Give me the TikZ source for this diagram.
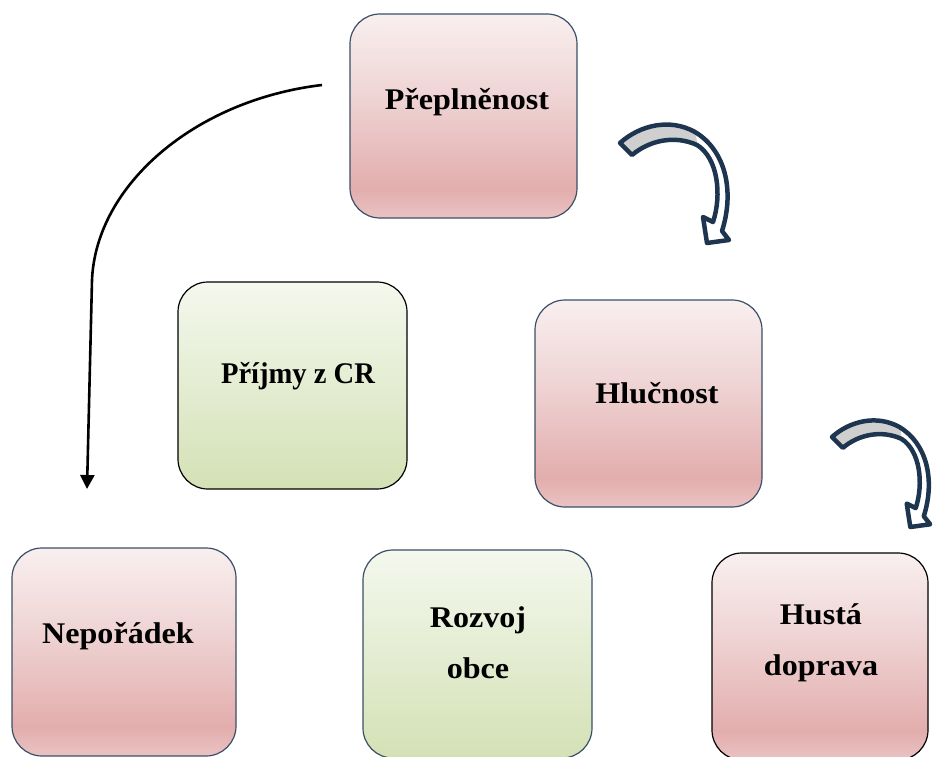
\documentclass[tikz,border=0pt]{standalone}
\usepackage{fontspec}
\usepackage{graphicx}
\setmainfont{Liberation Serif}[FakeStretch=1.07]
\usetikzlibrary{arrows.meta}

\definecolor{pinkTop}{HTML}{F9EFEF}
\definecolor{pinkMid}{HTML}{EFD4D4}
\definecolor{pinkLow}{HTML}{E3ADAD}
\definecolor{pinkBot}{HTML}{EAC3C3}
\definecolor{greenTop}{HTML}{F4F8EE}
\definecolor{greenBot}{HTML}{D4E1B5}
\definecolor{slate}{HTML}{3B4F68}
\definecolor{navy}{HTML}{1E3550}
\definecolor{bandgray}{HTML}{CFCFCF}

\pgfdeclareverticalshading{pinkfill}{100bp}{color(0bp)=(pinkBot); color(25bp)=(pinkBot);
  color(32bp)=(pinkLow); color(55bp)=(pinkMid); color(75bp)=(pinkTop); color(100bp)=(pinkTop)}

\tikzset{
  box/.style={rounded corners=30pt, line width=1.2pt, inner sep=0pt,
    minimum width=227pt, minimum height=206pt},
  pinkbox/.style={box, draw=slate, shade, shading=pinkfill},
  greenbox/.style={box, draw=slate, top color=greenTop, bottom color=greenBot},
  lbl/.style={font=\fontsize{30}{51}\selectfont\bfseries, align=center, inner sep=0pt},
  curve/.style={line width=2.6pt, -{Triangle[length=14pt,width=14pt]}},
  bandline/.style={draw=navy, line width=4.5pt, line join=round}
}

% the bent block arrow, drawn at the size of the upper one
\newcommand{\turnarrow}[1]{%
  \begin{scope}[#1]
    \fill[bandgray] (622,143) -- (632,153) .. controls (650,139) and (675,134) .. (697,143)
      -- (696,134) .. controls (670,121) and (640,127) .. (622,143) -- cycle;
    \draw[bandline] (620,143) -- (632,155) .. controls (650,140) and (675,135) .. (697,145)
      .. controls (718,158) and (722,195) .. (713,222) -- (703,217) -- (707,243)
      -- (729,240) -- (722,231) .. controls (735,190) and (725,150) .. (695,132)
      .. controls (670,118) and (640,125) .. (620,143) -- cycle;
  \end{scope}}

\begin{document}
\begin{tikzpicture}[x=1pt,y=-1pt]
  \fill[white] (0,0) rectangle (935,757);
  \useasboundingbox (0,0) rectangle (935,757);

  % boxes
  \node[pinkbox, minimum height=204pt] (prep) at (463.5,116) {};
  \node[greenbox, draw=black, minimum width=229pt, minimum height=207pt] (prij) at (292.5,385.5) {};
  \node[pinkbox, minimum height=207pt] (hluc) at (648.5,403.5) {};
  \node[pinkbox, minimum width=224pt, minimum height=208pt] (nepo) at (124,652) {};
  \node[greenbox, minimum width=229pt, minimum height=208pt] (rozv) at (477.5,654) {};
  \node[pinkbox, draw=black, minimum width=216pt, minimum height=207pt] (hust) at (820,656.5) {};

  % texts
  \node[lbl] (prepT) at (467,102) {Přeplněnost};
  \node[lbl] (prijT) at (298,376) {\scalebox{0.89}[1]{Příjmy z CR}};
  \node[lbl] (hlucT) at (657,393) {Hlučnost};
  \node[lbl] (nepoT) at (118,636) {Nepořádek};
  \node[lbl] (rozvT) at (478,643) {Rozvoj\\obce};
  \node[lbl] (hustT) at (821,643) {Hustá\\doprava};

  % thin arrow on the left
  \coordinate (cS) at (322,85);
  \coordinate (cM) at (92,280);
  \coordinate (cE) at (87,489);
  \draw[curve] (cS) .. controls (195,100) and (96,185) .. (cM) -- (cE);

  % block arrows
  \turnarrow{}
  \turnarrow{shift={(832,437)}, scale=0.9, shift={(-620,-143)}}
\end{tikzpicture}
\end{document}
